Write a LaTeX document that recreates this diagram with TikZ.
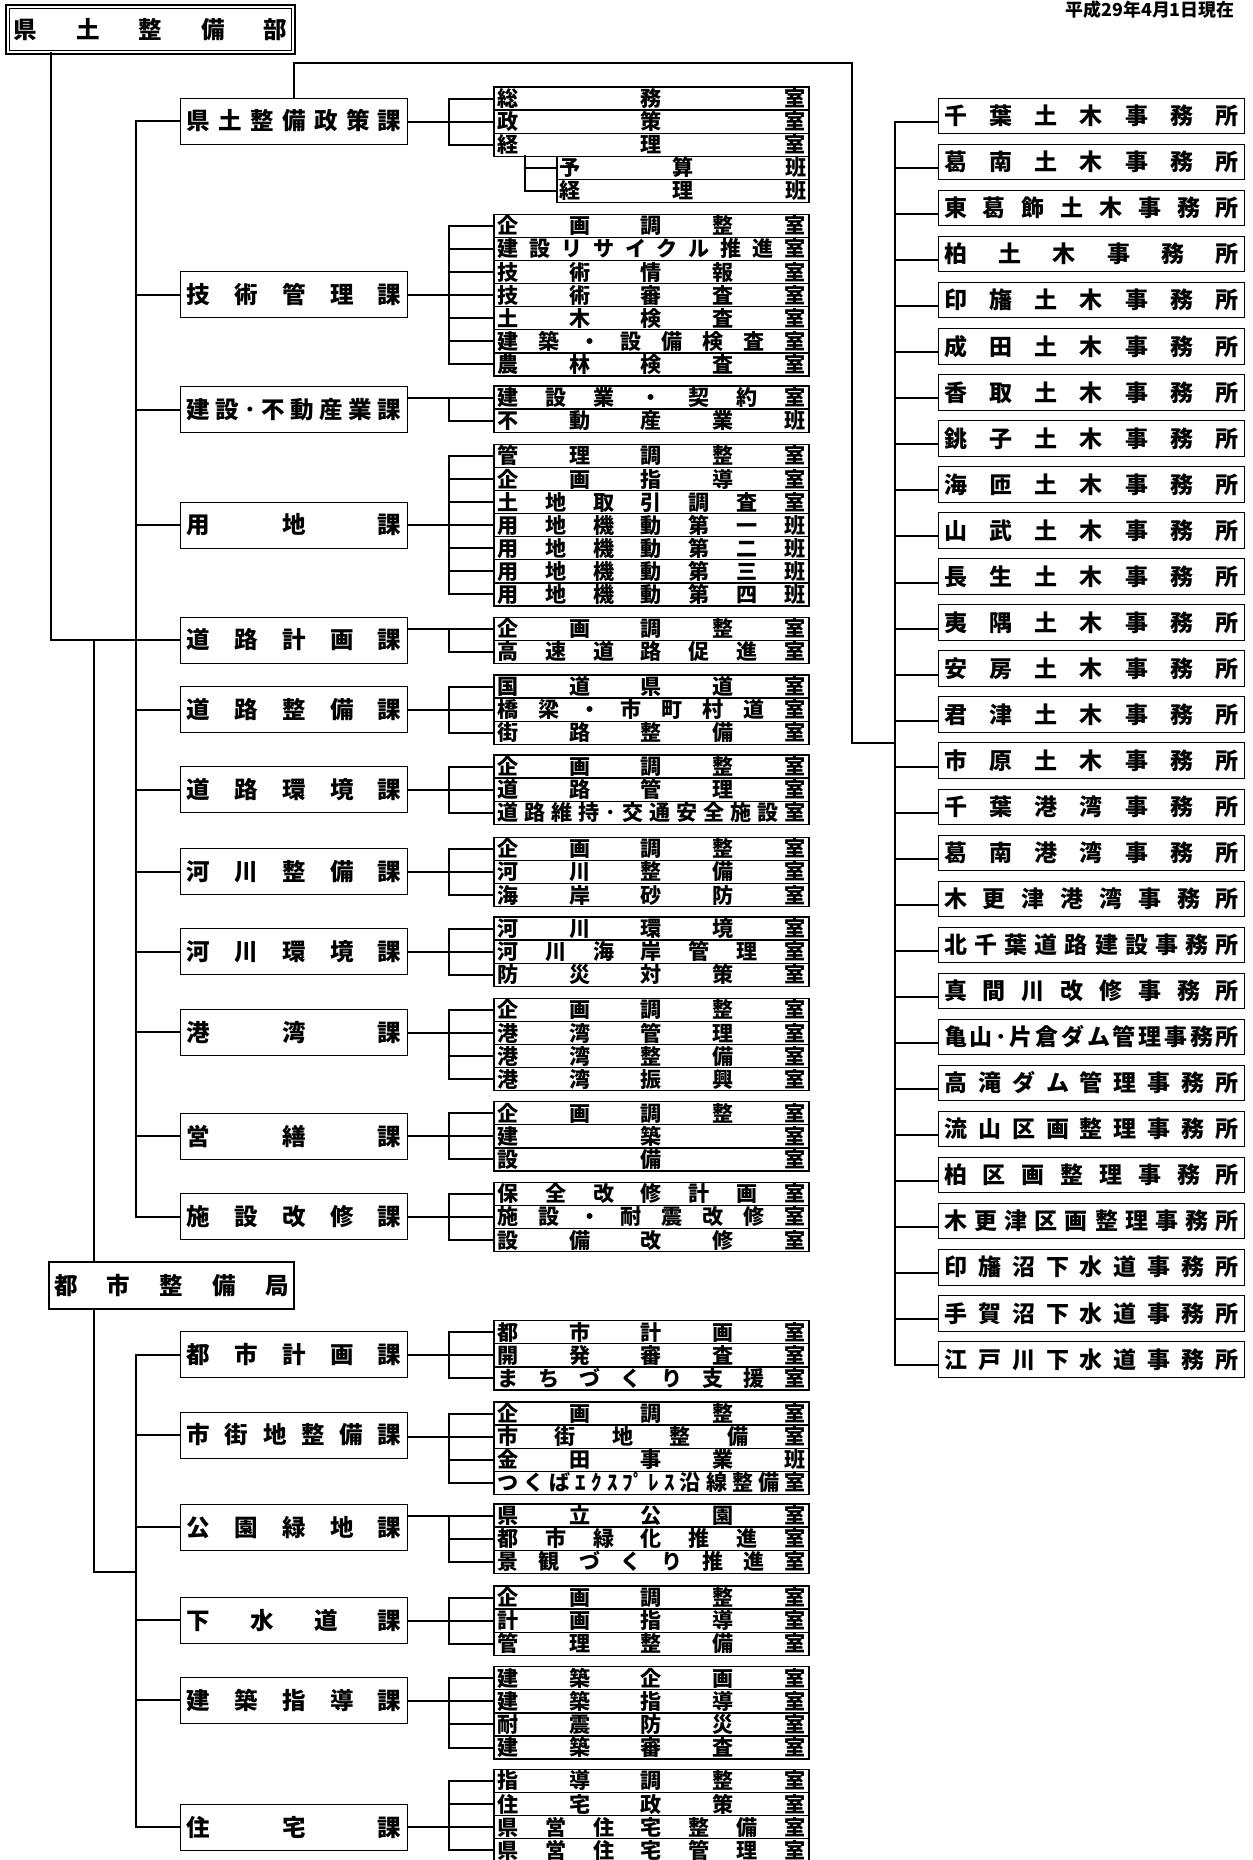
\documentclass[tikz,border=0pt]{standalone}
\usepackage{fontspec}
\newfontfamily\jp{Noto Sans CJK JP}

% spread the characters of a label over a fixed width
\newcommand\spreadtext[2]{\hbox to #1{\expandafter\spreadfirst#2\spreadend}}
\def\spreadfirst#1{#1\spreadloop}
\def\spreadendmark{\spreadend}
\def\spreadloop#1{\def\spreadtmp{#1}\ifx\spreadtmp\spreadendmark\else\hfill#1\expandafter\spreadloop\fi}

% section box with its stack of rooms
% #1 name, #2 label, #3 box y, #4 top of rooms, #5 rooms, #6 row that meets the section, #7 rooms
\newcommand\rowgroup[7]{%
  \node[sect] (#1) at (294,#3) {\spreadtext{4.3cm}{#2}};
  \foreach \roomname [count=\i] in {#7}
    \node[room] (#1-\i) at (651.5,{#4+(\i-0.5)*23.1}) {\spreadtext{6.16cm}{\roomname}};
  \foreach \i in {1,...,#5}
    \draw[ln] (#1-\i.west) -- ++(-44,0);
  \draw[ln] ([xshift=-0.88cm]#1-1.west) -- ([xshift=-0.88cm]#1-#5.west);
  \draw[ln] (#1.east |- #1-#6.west) -- (#1-#6.west);
  \draw[ln] (#1.west) -- ++(-44,0);
}

\begin{document}
\begin{tikzpicture}[
  x=0.02cm, y=-0.02cm,
  ln/.style={line width=0.04cm, line cap=rect},
  bu/.style={draw, double, line width=0.03cm, double distance=0.04cm,
             minimum width=5.72cm, minimum height=0.92cm, inner sep=0pt,
             font=\jp\bfseries\fontsize{13.4}{14}\selectfont},
  kyokubox/.style={draw, line width=0.045cm, minimum width=4.9cm,
             minimum height=0.94cm, inner sep=0pt,
             font=\jp\bfseries\fontsize{13.4}{14}\selectfont},
  sect/.style={draw, line width=0.02cm, minimum width=4.56cm,
             minimum height=0.92cm, inner sep=0pt,
             font=\jp\bfseries\fontsize{13.4}{14}\selectfont},
  room/.style={draw, line width=0.025cm, minimum width=6.3cm,
             minimum height=0.462cm, inner sep=0pt,
             font=\jp\bfseries\fontsize{12}{12}\selectfont},
  subroom/.style={room, minimum width=5.04cm},
  office/.style={draw, line width=0.02cm, minimum width=6.14cm,
             minimum height=0.71cm, inner sep=0pt,
             font=\jp\bfseries\fontsize{13.1}{14}\selectfont}
]
\useasboundingbox (0,0) rectangle (1253,1860);

\node[anchor=north east, inner sep=0pt, font=\jp\bfseries\fontsize{10.2}{11}\selectfont]
  (date) at (1235,1) {平成29年4月1日現在};

% ---------------- 県土整備部 ----------------
\node[bu] (bu) at (150.5,29.5) {\spreadtext{5.48cm}{県土整備部}};

\rowgroup{seisaku}{県土整備政策課}{121}{87}{3}{2}{総務室,政策室,経理室}
\node[subroom] (yosan) at (683,167.8) {\spreadtext{4.95cm}{予算班}};
\node[subroom] (keiriban) at (683,190.9) {\spreadtext{4.95cm}{経理班}};
\coordinate (keirijoin) at (525,156.3);
\draw[ln] (keirijoin) |- (keiriban.west);
\draw[ln] (keirijoin |- yosan.west) -- (yosan.west);

\rowgroup{gijutsu}{技術管理課}{294.5}{214.3}{7}{4}{企画調整室,建設リサイクル推進室,技術情報室,技術審査室,土木検査室,建築・設備検査室,農林検査室}
\rowgroup{kensetsu}{建設･不動産業課}{409.5}{386}{2}{1}{建設業・契約室,不動産業班}
\rowgroup{yochi}{用地課}{525}{444.3}{7}{4}{管理調整室,企画指導室,土地取引調査室,用地機動第一班,用地機動第二班,用地機動第三班,用地機動第四班}
\rowgroup{dkeikaku}{道路計画課}{640}{617.3}{2}{1}{企画調整室,高速道路促進室}
\rowgroup{dseibi}{道路整備課}{709.6}{675}{3}{2}{国道県道室,橋梁・市町村道室,街路整備室}
\rowgroup{dkankyo}{道路環境課}{789.5}{755}{3}{2}{企画調整室,道路管理室,道路維持･交通安全施設室}
\rowgroup{kseibi}{河川整備課}{871.5}{837.3}{3}{2}{企画調整室,河川整備室,海岸砂防室}
\rowgroup{kkankyo}{河川環境課}{951.5}{917}{3}{2}{河川環境室,河川海岸管理室,防災対策室}
\rowgroup{kowan}{港湾課}{1032.3}{998.3}{4}{2}{企画調整室,港湾管理室,港湾整備室,港湾振興室}
\rowgroup{eizen}{営繕課}{1136.3}{1101.7}{3}{2}{企画調整室,建築室,設備室}
\rowgroup{shisetsu}{施設改修課}{1216.7}{1182.3}{3}{2}{保全改修計画室,施設・耐震改修室,設備改修室}

\draw[ln] ([xshift=-0.88cm]seisaku.west) -- ([xshift=-0.88cm]shisetsu.west);
\coordinate (bujoin) at (51,640);
\draw[ln] (bu.south -| bujoin) -- (bujoin) -- (dkeikaku.west);

% ---------------- 都市整備局 ----------------
\node[kyokubox] (kyoku) at (171.5,1285.5) {\spreadtext{4.7cm}{都市整備局}};
\coordinate (kyokujoin) at (94,640);
\coordinate (lowjoin) at (136,1572);
\draw[ln] (kyokujoin) -- (kyoku.north -| kyokujoin);
\draw[ln] (kyoku.south -| kyokujoin) |- (lowjoin);

\rowgroup{tkeikaku}{都市計画課}{1354.5}{1320.7}{3}{2}{都市計画室,開発審査室,まちづくり支援室}
\rowgroup{shigaichi}{市街地整備課}{1435}{1402}{4}{2}{企画調整室,市街地整備室,金田事業班,つくばｴｸｽ{ﾌﾟ}ﾚｽ沿線整備室}
\rowgroup{koen}{公園緑地課}{1527.3}{1504}{3}{1}{県立公園室,都市緑化推進室,景観づくり推進室}
\rowgroup{gesui}{下水道課}{1620.3}{1586}{3}{2}{企画調整室,計画指導室,管理整備室}
\rowgroup{kenchiku}{建築指導課}{1700.3}{1666.7}{4}{2}{建築企画室,建築指導室,耐震防災室,建築審査室}
\rowgroup{jutaku}{住宅課}{1827}{1769.3}{4}{3}{指導調整室,住宅政策室,県営住宅整備室,県営住宅管理室}

\draw[ln] ([xshift=-0.88cm]tkeikaku.west) -- ([xshift=-0.88cm]jutaku.west);

% ---------------- 出先機関 ----------------
\foreach \officename [count=\i] in {千葉土木事務所,葛南土木事務所,東葛飾土木事務所,柏土木事務所,
    印旛土木事務所,成田土木事務所,香取土木事務所,銚子土木事務所,海匝土木事務所,山武土木事務所,
    長生土木事務所,夷隅土木事務所,安房土木事務所,君津土木事務所,市原土木事務所,千葉港湾事務所,
    葛南港湾事務所,木更津港湾事務所,北千葉道路建設事務所,真間川改修事務所,亀山･片倉ダム管理事務所,
    高滝ダム管理事務所,流山区画整理事務所,柏区画整理事務所,木更津区画整理事務所,
    印旛沼下水道事務所,手賀沼下水道事務所,江戸川下水道事務所}
  \node[office] (ofc\i) at (1091.5,{116+46.05*(\i-1)}) {\spreadtext{5.9cm}{\officename}};

\foreach \i in {1,...,28}
  \draw[ln] ([yshift=-0.12cm]ofc\i.west) -- ++(-43,0);
\draw[ln] ([xshift=-0.86cm,yshift=-0.12cm]ofc1.west) -- ([xshift=-0.86cm,yshift=-0.12cm]ofc28.west);

\coordinate (deturn) at (852,63);
\coordinate (dejoin) at (895,743);
\draw[ln] (seisaku.north) |- (deturn) |- (dejoin);
\end{tikzpicture}
\end{document}
